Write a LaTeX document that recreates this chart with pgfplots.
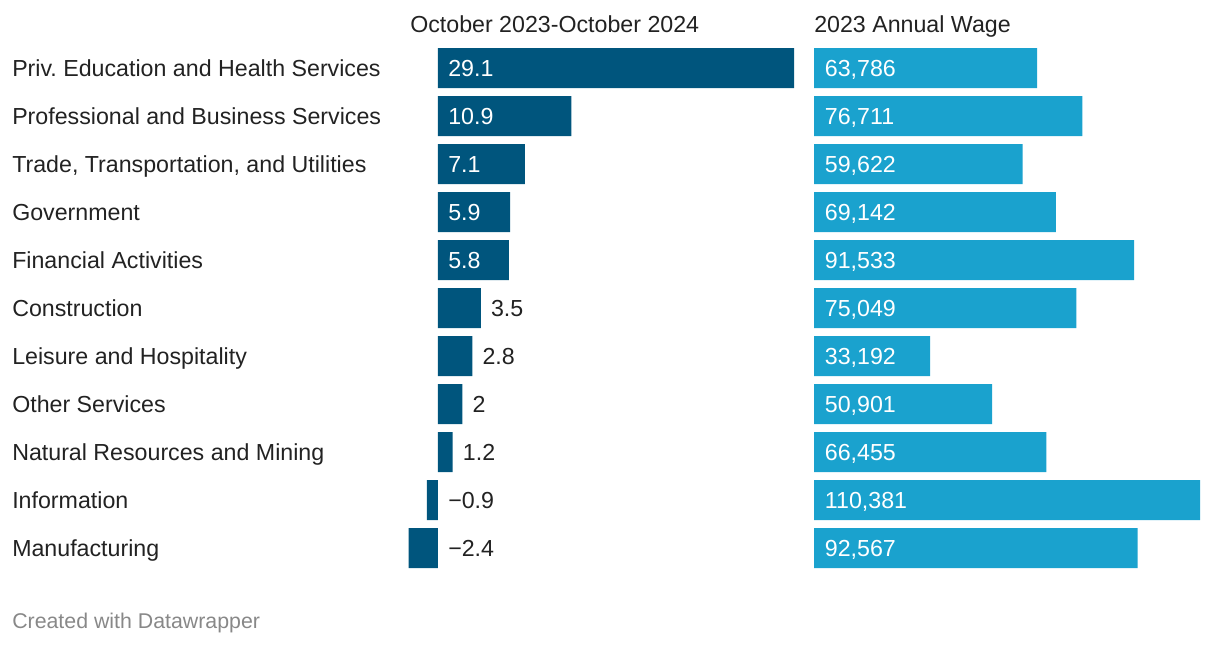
\documentclass[border=0pt]{standalone}
\usepackage{pgfplots}
\pgfplotsset{compat=1.18}
\usepackage{pgfplotstable}
\usepackage{fontspec}
\setmainfont{Liberation Sans}
\definecolor{darkb}{HTML}{00557D}
\definecolor{lightb}{HTML}{1AA2CE}
\definecolor{txt}{HTML}{222222}
\definecolor{foot}{HTML}{888888}

\pgfplotstableread{
y v
0 29.1
1 10.9
2 7.1
3 5.9
4 5.8
5 3.5
6 2.8
7 2
8 1.2
9 -0.9
10 -2.4
}\chg

\pgfplotstableread{
y v
0 63786
1 76711
2 59622
3 69142
4 91533
5 75049
6 33192
7 50901
8 66455
9 110381
10 92567
}\wage

\begin{document}
\frenchspacing
\fontsize{17.4pt}{21pt}\selectfont
\begin{tikzpicture}
\path[use as bounding box] (0,0) rectangle (915pt,-483pt);
\pgfplotsset{
  rowaxis/.style={
    scale only axis, hide axis, clip=false,
    height=396pt, y dir=reverse, ymin=-0.5, ymax=10.5,
    anchor=south west,
  },
  lab/.style 2 args={draw=none, mark=none, nodes near coords, point meta=explicit symbolic,
    nodes near coords style={anchor=base west, inner sep=0pt, xshift=#2, yshift=-6pt,
      font=\fontsize{17.4pt}{21pt}\selectfont, text=#1}},
}
% Left axis: change
\begin{axis}[rowaxis, at={(9pt,-429pt)}, width=586.5pt, xmin=-34.82, xmax=29.1]
\addplot[xbar, fill=darkb, draw=none, bar width=0.8333] table[x=v, y=y]{\chg};
% category names
\addplot[lab={txt}{0pt}] table[x=x, y=y, meta=l, col sep=comma]{
x,y,l
-34.82,0,Priv. Education and Health Services
-34.82,1,Professional and Business Services
-34.82,2,{Trade, Transportation, and Utilities}
-34.82,3,Government
-34.82,4,Financial Activities
-34.82,5,Construction
-34.82,6,Leisure and Hospitality
-34.82,7,Other Services
-34.82,8,Natural Resources and Mining
-34.82,9,Information
-34.82,10,Manufacturing
};
% inside labels
\addplot[lab={white}{7.5pt}] table[x=x, y=y, meta=l]{
x y l
0 0 29.1
0 1 10.9
0 2 7.1
0 3 5.9
0 4 5.8
};
% outside labels
\addplot[lab={txt}{7.5pt}] table[x=x, y=y, meta=l]{
x y l
3.5 5 3.5
2.8 6 2.8
2 7 2
1.2 8 1.2
0 9 −0.9
0 10 −2.4
};
\end{axis}
% Right axis: wage
\begin{axis}[rowaxis, at={(610.5pt,-429pt)}, width=289.5pt, xmin=0, xmax=110381]
\addplot[xbar, fill=lightb, draw=none, bar width=0.8333] table[x=v, y=y]{\wage};
\addplot[lab={white}{8pt}] table[x=x, y=y, meta=l]{
x y l
0 0 63,786
0 1 76,711
0 2 59,622
0 3 69,142
0 4 91,533
0 5 75,049
0 6 33,192
0 7 50,901
0 8 66,455
0 9 110,381
0 10 92,567
};
\end{axis}
\node[anchor=base west, inner sep=0pt, text=txt] at (307.5pt,-24pt) {October 2023-October 2024};
\node[anchor=base west, inner sep=0pt, text=txt] at (610.5pt,-24pt) {2023 Annual Wage};
\node[anchor=base west, inner sep=0pt, text=foot, font=\fontsize{16pt}{19pt}\selectfont] at (9pt,-471pt) {Created with Datawrapper};
\end{tikzpicture}
\end{document}
